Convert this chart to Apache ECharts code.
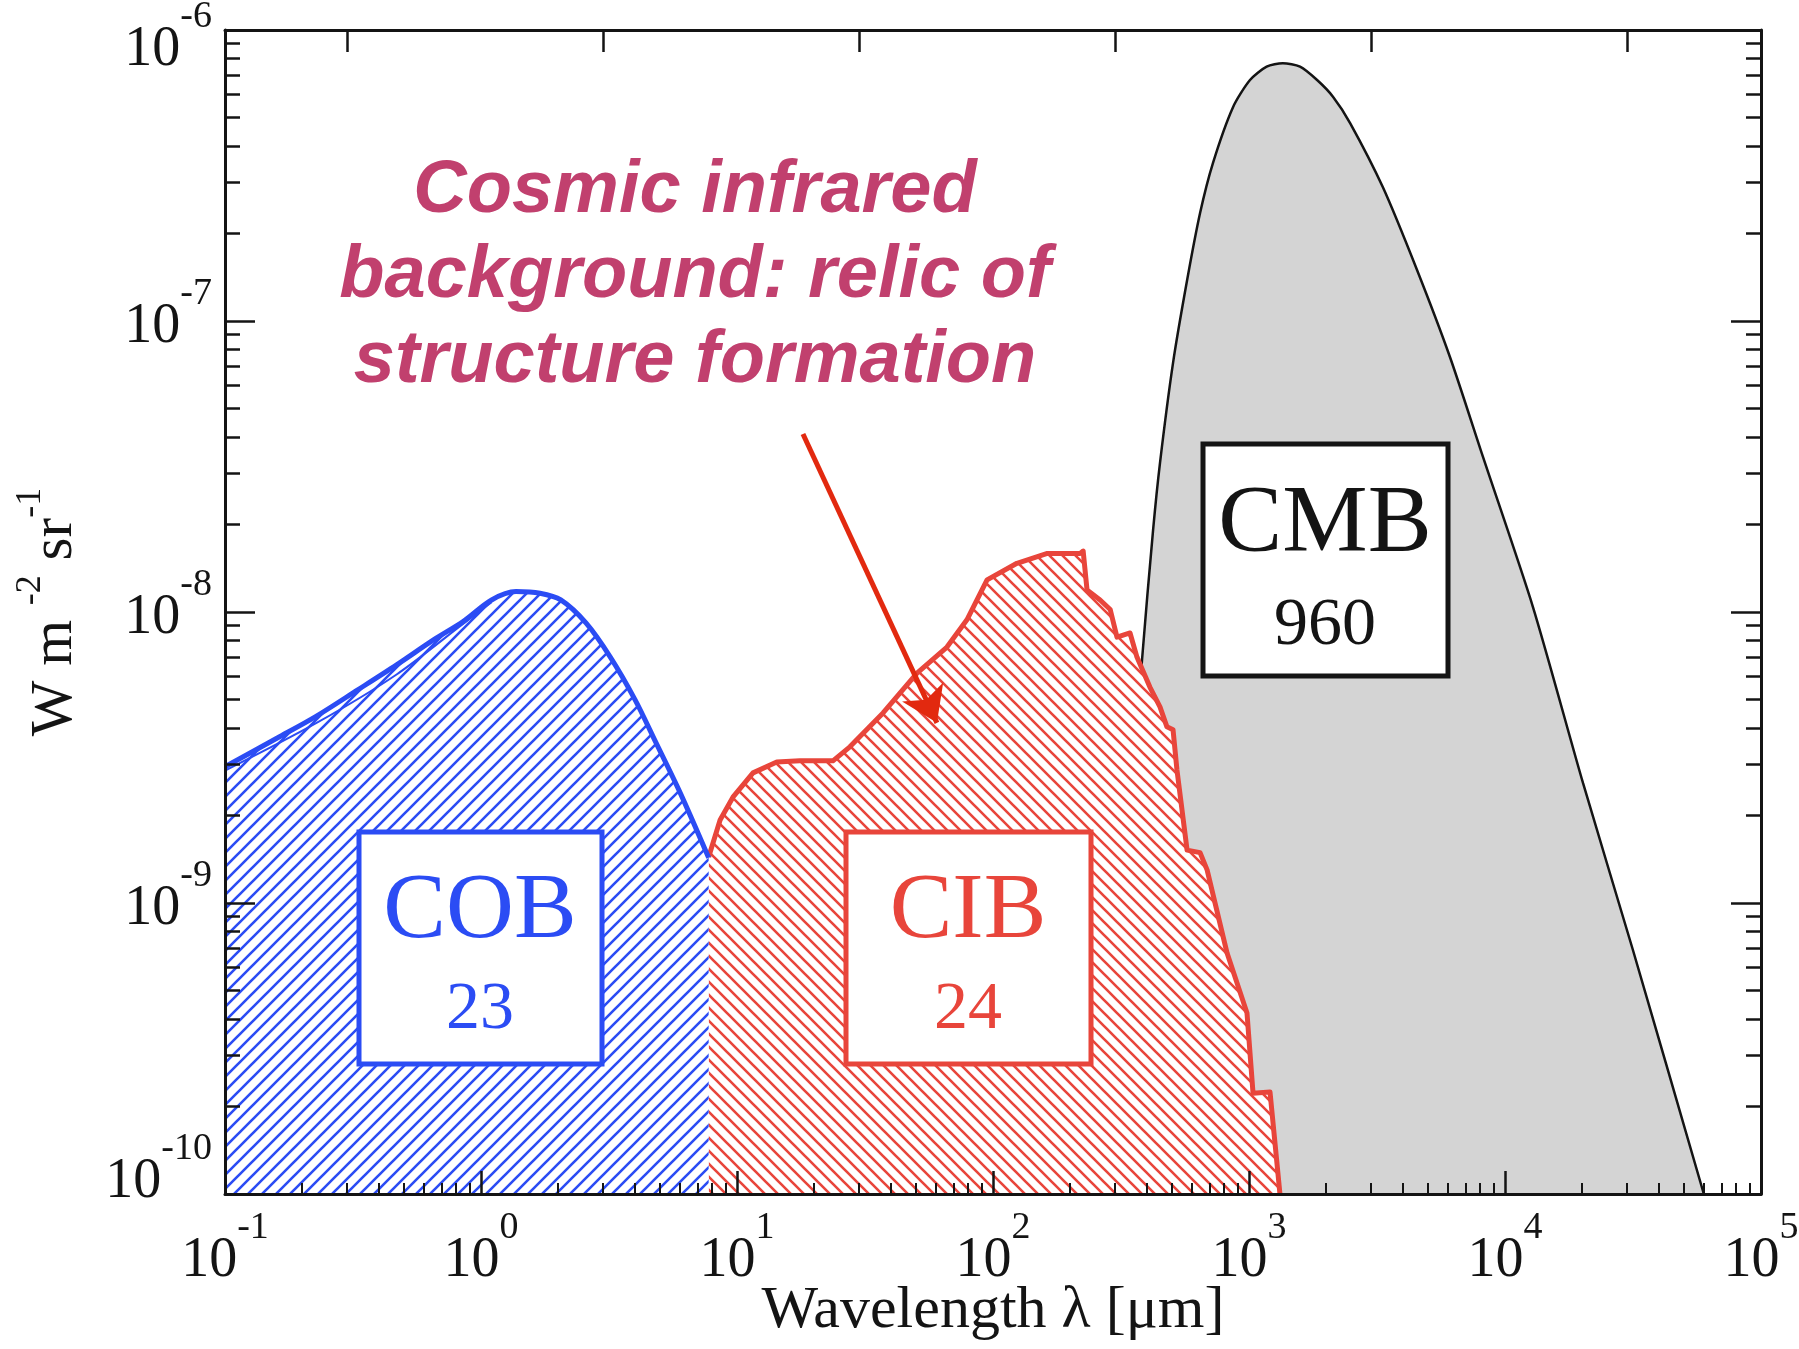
<!DOCTYPE html>
<html>
<head>
<meta charset="utf-8">
<script src="https://cdn.jsdelivr.net/npm/echarts@6/dist/echarts.min.js"></script>
<style>
  html, body { margin: 0; padding: 0; background: #ffffff; }
  #chart { width: 1799px; height: 1349px; }
</style>
</head>
<body>
<div id="chart"></div>
<script>
// Extragalactic background spectra: wavelength in µm, intensity (nu I_nu) in W m^-2 sr^-1

// Cosmic optical background
const cobWavelength = [0.1, 0.16, 0.226, 0.33, 0.468, 0.65, 0.851, 1.1, 1.37, 1.7, 2.05, 2.57, 3.2, 4.0, 4.83, 6.0, 7.75];
const cobIntensity  = [2.94e-9, 3.69e-9, 4.37e-9, 5.40e-9, 6.58e-9, 8.0e-9, 9.27e-9, 1.10e-8, 1.175e-8, 1.16e-8, 1.10e-8, 9.17e-9, 7.0e-9, 4.99e-9, 3.55e-9, 2.39e-9, 1.43e-9];

// Lower envelope drawn just under the optical curve at short wavelengths
const cobLowWavelength = [0.1, 0.226, 0.468, 0.851, 1.1];
const cobLowIntensity  = [2.85e-9, 4.14e-9, 6.1e-9, 9.1e-9, 1.08e-8];

// Cosmic infrared background
const cibWavelength = [7.75, 8.59, 9.64, 11.55, 14.3, 17.6, 23.7, 27.6, 37.2, 50.5, 66.1, 79.1, 94.8, 124, 163, 219, 225, 233, 262, 287, 305, 343, 365, 410, 449, 478, 505, 523, 573, 644, 686, 821, 982, 1037, 1208, 1321];
const cibIntensity  = [1.44e-9, 1.93e-9, 2.31e-9, 2.80e-9, 3.05e-9, 3.08e-9, 3.08e-9, 3.44e-9, 4.50e-9, 6.17e-9, 7.58e-9, 9.40e-9, 1.29e-8, 1.47e-8, 1.59e-8, 1.59e-8, 1.62e-8, 1.19e-8, 1.10e-8, 1.02e-8, 8.2e-9, 8.47e-9, 7.0e-9, 5.52e-9, 4.72e-9, 4.03e-9, 3.94e-9, 2.87e-9, 1.52e-9, 1.49e-9, 1.30e-9, 6.73e-10, 4.19e-10, 2.22e-10, 2.24e-10, 1.0e-10];

// Cosmic microwave background
const cmbWavelength = [278, 300, 340, 382, 422, 449, 505, 573, 644, 723, 866, 1009, 1172, 1355, 1582, 1845, 2128, 2483, 3335, 4529, 6095, 8204, 12860, 20180, 31620, 59800];
const cmbIntensity  = [1.0e-10, 3.2e-10, 1.6e-9, 6.84e-9, 1.91e-8, 3.25e-8, 7.18e-8, 1.38e-7, 2.35e-7, 3.49e-7, 5.43e-7, 6.73e-7, 7.48e-7, 7.69e-7, 7.48e-7, 6.73e-7, 5.90e-7, 4.79e-7, 2.88e-7, 1.50e-7, 7.52e-8, 3.41e-8, 1.04e-8, 2.58e-9, 6.88e-10, 1.0e-10];

// Integrated intensities (nW m^-2 sr^-1) printed in the boxes
const bandNames  = ['COB', 'CIB', 'CMB'];
const bandTotals = ['23', '24', '960'];

// Arrow pointing at the infrared background (wavelength, intensity)
const arrowFrom = [18.1, 4.09e-8];
const arrowTo   = [60.4, 4.16e-9];

const noteLines = ['Cosmic infrared', 'background: relic of', 'structure formation'];

const BLUE = '#2b4cf4';
const RED = '#e8453b';
const ARROW = '#e2290f';
const PINK = '#c1406e';
const INK = '#141414';
const GREY = '#d4d4d4';
const SERIF = '"Liberation Serif", "DejaVu Serif", serif';
const SANS = '"Liberation Sans", Arial, sans-serif';

const pairs = (xs, ys) => xs.map((x, i) => [x, ys[i]]);

// Diagonal hatch tile on a white ground; dir > 0 rises to the right
function hatch(color, size, width, dir) {
  const c = document.createElement('canvas');
  c.width = size; c.height = size;
  const g = c.getContext('2d');
  g.fillStyle = '#ffffff';
  g.fillRect(0, 0, size, size);
  g.strokeStyle = color;
  g.lineWidth = width;
  g.beginPath();
  for (const k of [-1, 0, 1, 2]) {
    if (dir > 0) {
      g.moveTo(k * size + 3, -3);
      g.lineTo(k * size - size - 3, size + 3);
    } else {
      g.moveTo(-3, -3 + k * size);
      g.lineTo(size + 3, size + 3 + k * size);
    }
  }
  g.stroke();
  return { image: c, repeat: 'repeat' };
}

// Tick positions in log10 space for the frame axes
const minorX = [], minorY = [], topTicks = [], majorY = [];
for (let n = -1; n < 5; n++) for (let k = 2; k <= 9; k++) minorX.push(n + Math.log10(k));
for (let n = -10; n < -6; n++) for (let k = 2; k <= 9; k++) minorY.push(n + Math.log10(k));
for (let n = -1; n < 5; n++) topTicks.push(n + Math.log10(3));
for (let n = -10; n <= -6; n++) majorY.push(n);

const tickRich = {
  b: { fontFamily: SERIF, fontSize: 56, lineHeight: 80, verticalAlign: 'bottom', color: INK },
  s: { fontFamily: SERIF, fontSize: 38, lineHeight: 38, verticalAlign: 'top', color: INK },
  gl: { fontSize: 10, lineHeight: 36, height: 36 },
  gh: { fontSize: 10, lineHeight: 28, height: 28 }
};
const power = v => '{b|10}{s|' + Math.round(Math.log10(v)) + '}';

const frameLine = { show: true, onZero: false, lineStyle: { color: INK, width: 3 } };
const hiddenLine = { show: false, onZero: false };
const noSplit = { show: false };
const AXIS_Z = 10;

const chart = echarts.init(document.getElementById('chart'), null, { renderer: 'canvas' });

chart.setOption({
  animation: false,
  backgroundColor: '#ffffff',
  grid: { left: 225, top: 30, width: 1536, height: 1164, containLabel: false, outerBoundsMode: 'none' },
  xAxis: [
    {
      type: 'log', min: 0.1, max: 1e5, position: 'bottom', z: AXIS_Z,
      axisLine: frameLine,
      axisTick: { inside: true, length: 23, lineStyle: { color: INK, width: 2.5 } },
      axisLabel: { margin: 15, formatter: power, rich: tickRich },
      splitLine: noSplit, minorTick: { show: false },
      name: 'Wavelength λ [μm]', nameLocation: 'middle', nameGap: 87, nameMoveOverlap: false,
      nameTextStyle: { fontFamily: SERIF, fontSize: 60, color: INK }
    },
    {
      type: 'value', min: -1, max: 5, position: 'bottom', z: AXIS_Z,
      axisLine: hiddenLine,
      axisTick: { inside: true, length: 11, customValues: minorX, lineStyle: { color: INK, width: 2 } },
      axisLabel: { show: false }, splitLine: noSplit
    },
    {
      type: 'value', min: -1, max: 5, position: 'top', z: AXIS_Z,
      axisLine: frameLine,
      axisTick: { inside: true, length: 22, customValues: topTicks, lineStyle: { color: INK, width: 2.5 } },
      axisLabel: { show: false }, splitLine: noSplit
    }
  ],
  yAxis: [
    {
      type: 'log', min: 1e-10, max: 1e-6, position: 'left', z: AXIS_Z,
      axisLine: frameLine,
      axisTick: { inside: true, length: 30, lineStyle: { color: INK, width: 2.5 } },
      axisLabel: {
        margin: 13, rich: tickRich, padding: [0, 0, 12, 0],
        formatter: v => {
          const e = Math.round(Math.log10(v));
          if (e === -10) return power(v) + '\n{gl| }';
          if (e === -6) return '{gh| }\n' + power(v);
          return power(v);
        }
      },
      splitLine: noSplit, minorTick: { show: false },
      name: '{n|W m }{p|-2}{n| sr}{p|-1}', nameLocation: 'middle', nameGap: 140, nameRotate: 90,
      nameTextStyle: {
        rich: {
          n: { fontFamily: SERIF, fontSize: 59, lineHeight: 72, verticalAlign: 'bottom', color: INK },
          p: { fontFamily: SERIF, fontSize: 36, lineHeight: 36, verticalAlign: 'top', color: INK }
        }
      }
    },
    {
      type: 'value', min: -10, max: -6, position: 'left', z: AXIS_Z,
      axisLine: hiddenLine,
      axisTick: { inside: true, length: 15, customValues: minorY, lineStyle: { color: INK, width: 2.5 } },
      axisLabel: { show: false }, splitLine: noSplit
    },
    {
      type: 'value', min: -10, max: -6, position: 'right', z: AXIS_Z,
      axisLine: frameLine,
      axisTick: { inside: true, length: 30, customValues: majorY, lineStyle: { color: INK, width: 2.5 } },
      axisLabel: { show: false }, splitLine: noSplit
    },
    {
      type: 'value', min: -10, max: -6, position: 'right', z: AXIS_Z,
      axisLine: hiddenLine,
      axisTick: { inside: true, length: 15, customValues: minorY, lineStyle: { color: INK, width: 2.5 } },
      axisLabel: { show: false }, splitLine: noSplit
    }
  ],
  series: [
    {
      name: 'CMB', type: 'line', xAxisIndex: 0, yAxisIndex: 0, z: 2,
      data: pairs(cmbWavelength, cmbIntensity),
      showSymbol: false, smooth: 0.25,
      lineStyle: { color: INK, width: 2.5 },
      areaStyle: { color: GREY, opacity: 1, origin: 'start' }
    },
    {
      name: 'CIB', type: 'line', xAxisIndex: 0, yAxisIndex: 0, z: 3,
      data: pairs(cibWavelength, cibIntensity),
      showSymbol: false,
      lineStyle: { color: RED, width: 5, join: 'round' },
      areaStyle: { color: hatch(RED, 13, 2.6, -1), opacity: 1, origin: 'start' },
      markLine: {
        silent: true, symbol: ['none', 'arrow'], symbolSize: 34,
        lineStyle: { color: ARROW, width: 5, type: 'solid' },
        itemStyle: { color: ARROW },
        label: { show: false },
        data: [[{ coord: arrowFrom }, { coord: arrowTo }]]
      }
    },
    {
      name: 'COB', type: 'line', xAxisIndex: 0, yAxisIndex: 0, z: 3,
      data: pairs(cobWavelength, cobIntensity),
      showSymbol: false, smooth: 0.3,
      lineStyle: { color: BLUE, width: 5 },
      areaStyle: { color: hatch(BLUE, 14, 2.6, 1), opacity: 1, origin: 'start' }
    },
    {
      name: 'COB lower', type: 'line', xAxisIndex: 0, yAxisIndex: 0, z: 4,
      data: pairs(cobLowWavelength, cobLowIntensity),
      showSymbol: false, smooth: 0.3,
      lineStyle: { color: BLUE, width: 2 }
    }
  ],
  graphic: [
    // band boxes
    { type: 'rect', z: 100, shape: { x: 359, y: 832, width: 243, height: 232 }, style: { fill: '#fff', stroke: BLUE, lineWidth: 5 } },
    { type: 'rect', z: 100, shape: { x: 846, y: 832, width: 245, height: 232 }, style: { fill: '#fff', stroke: RED, lineWidth: 5 } },
    { type: 'rect', z: 100, shape: { x: 1203, y: 444, width: 245, height: 232 }, style: { fill: '#fff', stroke: INK, lineWidth: 5 } },
    { type: 'text', z: 101, x: 480, y: 912, style: { text: bandNames[0], font: '94px ' + SERIF, fill: BLUE, align: 'center', verticalAlign: 'middle' } },
    { type: 'text', z: 101, x: 480, y: 1010, style: { text: bandTotals[0], font: '68px ' + SERIF, fill: BLUE, align: 'center', verticalAlign: 'middle' } },
    { type: 'text', z: 101, x: 968, y: 912, style: { text: bandNames[1], font: '94px ' + SERIF, fill: RED, align: 'center', verticalAlign: 'middle' } },
    { type: 'text', z: 101, x: 968, y: 1010, style: { text: bandTotals[1], font: '68px ' + SERIF, fill: RED, align: 'center', verticalAlign: 'middle' } },
    { type: 'text', z: 101, x: 1325, y: 526, style: { text: bandNames[2], font: '96px ' + SERIF, fill: INK, align: 'center', verticalAlign: 'middle' } },
    { type: 'text', z: 101, x: 1325, y: 626, style: { text: bandTotals[2], font: '68px ' + SERIF, fill: INK, align: 'center', verticalAlign: 'middle' } },
    // annotation
    { type: 'text', z: 101, x: 695, y: 149, style: { text: noteLines.join('\n'), font: 'italic bold 74px ' + SANS, lineHeight: 85, fill: PINK, align: 'center', verticalAlign: 'top' } }
  ]
});
</script>
</body>
</html>
